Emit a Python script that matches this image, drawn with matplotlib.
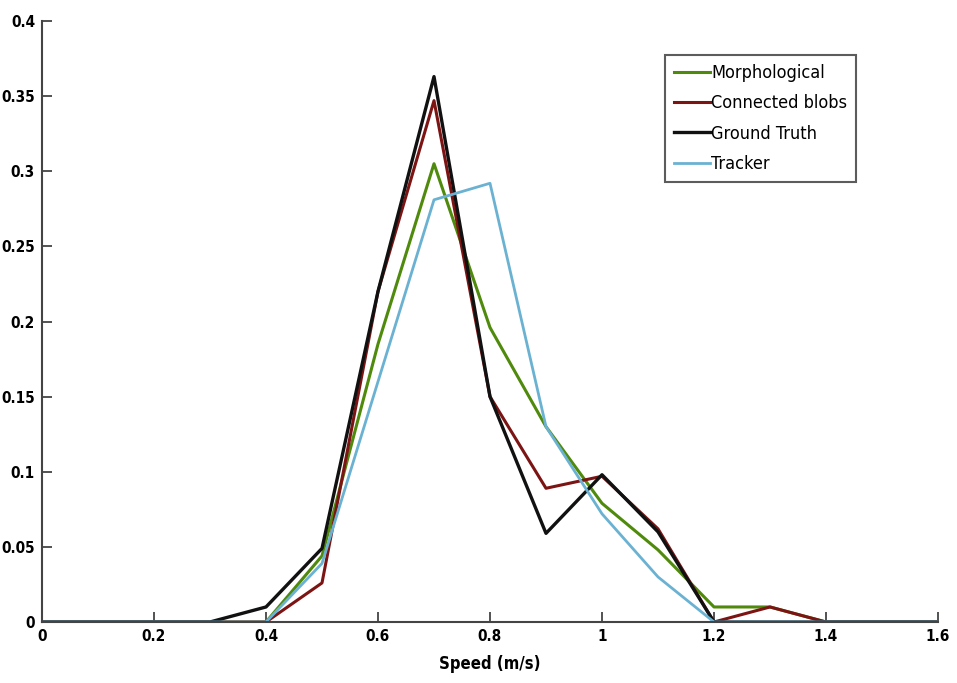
import matplotlib
matplotlib.use("Agg")
import matplotlib.pyplot as plt
from matplotlib import font_manager

speed = [0.0, 0.1, 0.2, 0.3, 0.4, 0.5, 0.6, 0.7, 0.8, 0.9, 1.0, 1.1, 1.2, 1.3, 1.4, 1.5, 1.6]
morphological = [0, 0, 0, 0, 0.0, 0.044, 0.185, 0.305, 0.196, 0.130, 0.079, 0.048, 0.010, 0.010, 0, 0, 0]
connected_blobs = [0, 0, 0, 0, 0.0, 0.026, 0.220, 0.347, 0.150, 0.089, 0.097, 0.062, 0.0, 0.010, 0, 0, 0]
ground_truth = [0, 0, 0, 0, 0.010, 0.049, 0.220, 0.363, 0.150, 0.059, 0.098, 0.060, 0.0, 0, 0, 0, 0]
tracker = [0, 0, 0, 0, 0.0, 0.039, 0.160, 0.281, 0.292, 0.130, 0.072, 0.030, 0.0, 0, 0, 0, 0]

xticks = [0, 0.2, 0.4, 0.6, 0.8, 1.0, 1.2, 1.4, 1.6]
xticklabels = ["0", "0.2", "0.4", "0.6", "0.8", "1", "1.2", "1.4", "1.6"]
yticks = [0, 0.05, 0.1, 0.15, 0.2, 0.25, 0.3, 0.35, 0.4]
yticklabels = ["0", "0.05", "0.1", "0.15", "0.2", "0.25", "0.3", "0.35", "0.4"]

names = {f.name for f in font_manager.fontManager.ttflist}
if "Liberation Sans Narrow" in names:
    fam = "Liberation Sans Narrow"
    stretch = "normal"
else:
    fam = "DejaVu Sans"
    stretch = "condensed"
plt.rcParams['font.family'] = [fam, 'DejaVu Sans']
plt.rcParams['font.stretch'] = stretch

fig = plt.figure(figsize=(9.57, 6.83), dpi=100)
ax = fig.add_axes([42/957, 1-622/683, 896/957, 601/683])

ax.plot(speed, morphological, color="#4f8a0c", lw=2.2, label="Morphological")
ax.plot(speed, connected_blobs, color="#7d1414", lw=2.2, label="Connected blobs")
ax.plot(speed, ground_truth, color="#111111", lw=2.4, label="Ground Truth")
ax.plot(speed, tracker, color="#6bb2d2", lw=2.0, label="Tracker")

ax.set_xlim(0, 1.6)
ax.set_ylim(0, 0.4)
ax.set_xticks(xticks)
ax.set_xticklabels(xticklabels, fontweight="bold", fontsize=11, fontstretch=stretch)
ax.set_yticks(yticks)
ax.set_yticklabels(yticklabels, fontweight="bold", fontsize=11, fontstretch=stretch)
ax.tick_params(direction="in", length=7, width=1.3, color="#444444", pad=5)
for s in ["top", "right"]:
    ax.spines[s].set_visible(False)
for s in ["left", "bottom"]:
    ax.spines[s].set_color("#444444")
    ax.spines[s].set_linewidth(1.5)

ax.set_xlabel("Speed (m/s)", fontweight="bold", fontsize=12, labelpad=8, fontstretch=stretch)

leg = ax.legend(loc="upper right", bbox_to_anchor=(856/957, 1-55/683), bbox_transform=fig.transFigure,
                prop={"size": 13, "stretch": stretch, "family": [fam, "DejaVu Sans"]},
                frameon=True, fancybox=False, handlelength=2.0, handletextpad=0.05,
                borderpad=0.5, labelspacing=0.68, borderaxespad=0)
leg.get_frame().set_edgecolor("#333333")
leg.get_frame().set_linewidth(1.5)

fig.savefig("out.png", dpi=100, facecolor="white")
